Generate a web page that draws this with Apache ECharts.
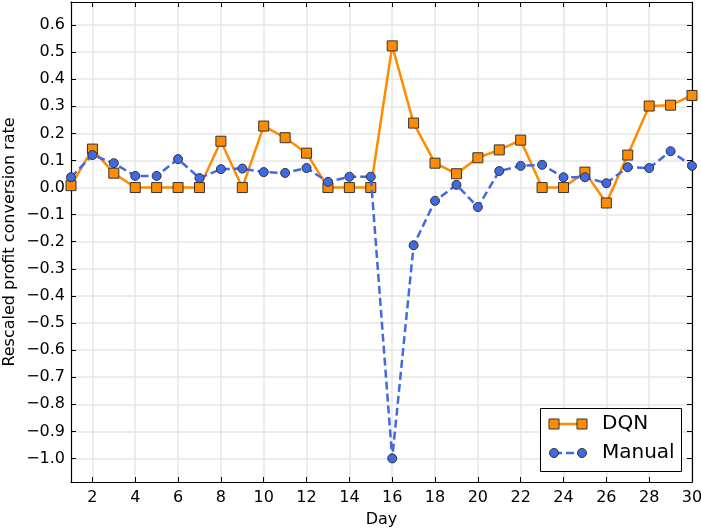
<!DOCTYPE html>
<html>
<head>
<meta charset="utf-8">
<script src="https://cdn.jsdelivr.net/npm/echarts@6/dist/echarts.min.js"></script>
<style>html,body{margin:0;padding:0;background:#fff;}#c{width:701px;height:530px;}</style>
</head>
<body>
<div id="c"></div>
<script>
const days = [1,2,3,4,5,6,7,8,9,10,11,12,13,14,15,16,17,18,19,20,21,22,23,24,25,26,27,28,29,30];
const dqn = [0.007,0.142,0.053,0.0,0.0,0.0,0.0,0.171,0.0,0.227,0.184,0.127,0.0,0.0,0.0,0.523,0.238,0.09,0.051,0.11,0.139,0.175,0.0,0.0,0.057,-0.057,0.12,0.301,0.304,0.34];
const manual = [0.038,0.12,0.09,0.043,0.043,0.105,0.035,0.068,0.07,0.057,0.054,0.072,0.021,0.04,0.04,-1.0,-0.213,-0.049,0.01,-0.072,0.061,0.08,0.084,0.038,0.038,0.016,0.075,0.072,0.134,0.08];
const xTicks = [2,4,6,8,10,12,14,16,18,20,22,24,26,28,30];
const yTicks = [-1.0,-0.9,-0.8,-0.7,-0.6,-0.5,-0.4,-0.3,-0.2,-0.1,0.0,0.1,0.2,0.3,0.4,0.5,0.6];
const seriesNames = ['DQN','Manual'];

const FONT = 'DejaVu Sans';
const ORANGE = '#ff8c00';
const BLUE = '#4169e1';
const EDGE = '#333333';
const GRIDC = '#e6e6e6';

function fmtY(v){ return v.toFixed(1).replace('-', '\u2212'); }

const chart = echarts.init(document.getElementById('c'), null, {renderer:'canvas'});
const baseX = {
  type:'value', min:1, max:30,
  axisLine:{show:true, onZero:false, lineStyle:{color:'#000', width:1.2}},
  axisTick:{show:true, inside:true, length:5, customValues:xTicks, lineStyle:{color:'#000'}},
  axisLabel:{show:false},
  splitLine:{show:false}
};
const baseY = {
  type:'value', min:-1.087, max:0.685,
  axisLine:{show:true, onZero:false, lineStyle:{color:'#000', width:1.2}},
  axisTick:{show:true, inside:true, length:5, customValues:yTicks, lineStyle:{color:'#000'}},
  axisLabel:{show:false},
  splitLine:{show:false}
};
chart.setOption({
  animation:false,
  textStyle:{fontFamily:FONT},
  grid:{left:71, right:9, top:2, bottom:48, containLabel:false, outerBoundsMode:'none'},
  xAxis:[
    Object.assign({}, baseX, {
      position:'bottom', name:'Day', nameLocation:'middle', nameGap:30, nameMoveOverlap:false,
      nameTextStyle:{fontFamily:FONT, fontSize:16, color:'#000'},
      axisLabel:{show:true, customValues:xTicks, fontFamily:FONT, fontSize:16, color:'#000', margin:8},
      splitLine:{show:true, lineStyle:{color:GRIDC, width:1.5}}
    }),
    Object.assign({}, baseX, {position:'top'})
  ],
  yAxis:[
    Object.assign({}, baseY, {
      position:'left', name:'Rescaled profit conversion rate', nameLocation:'middle', nameGap:53, nameMoveOverlap:false,
      nameTextStyle:{fontFamily:FONT, fontSize:16, color:'#000'},
      axisLabel:{show:true, customValues:yTicks, fontFamily:FONT, fontSize:16, color:'#000', margin:6, formatter:fmtY},
      splitLine:{show:true, lineStyle:{color:GRIDC, width:1.5}}
    }),
    Object.assign({}, baseY, {position:'right'})
  ],
  series:[
    {
      name:seriesNames[0], type:'line', xAxisIndex:0, yAxisIndex:0,
      data: days.map((d,i)=>[d, dqn[i]]),
      symbol:'rect', symbolSize:10, showAllSymbol:true,
      lineStyle:{color:ORANGE, width:2.5},
      itemStyle:{color:ORANGE, borderColor:EDGE, borderWidth:1},
      z:2
    },
    {
      name:seriesNames[1], type:'line', xAxisIndex:0, yAxisIndex:0,
      data: days.map((d,i)=>[d, manual[i]]),
      symbol:'circle', symbolSize:9, showAllSymbol:true,
      lineStyle:{color:BLUE, width:2.5, type:[8,4]},
      itemStyle:{color:BLUE, borderColor:EDGE, borderWidth:1},
      z:3
    }
  ],
  graphic:[
    {type:'rect', shape:{x:540.5, y:408.5, width:141, height:63}, style:{fill:'#fff', stroke:'#000', lineWidth:1}, z:10},
    {type:'line', shape:{x1:554, y1:424, x2:582, y2:424}, style:{stroke:ORANGE, lineWidth:2.5}, z:11},
    {type:'rect', shape:{x:549, y:419, width:10, height:10}, style:{fill:ORANGE, stroke:EDGE, lineWidth:1}, z:12},
    {type:'rect', shape:{x:577, y:419, width:10, height:10}, style:{fill:ORANGE, stroke:EDGE, lineWidth:1}, z:12},
    {type:'text', x:602, y:424, style:{text:seriesNames[0], fontFamily:FONT, fontSize:20, fill:'#000', verticalAlign:'middle'}, z:12},
    {type:'line', shape:{x1:554, y1:453, x2:582, y2:453}, style:{stroke:BLUE, lineWidth:2.5, lineDash:[8,4]}, z:11},
    {type:'circle', shape:{cx:554, cy:453, r:4.5}, style:{fill:BLUE, stroke:EDGE, lineWidth:1}, z:12},
    {type:'circle', shape:{cx:582, cy:453, r:4.5}, style:{fill:BLUE, stroke:EDGE, lineWidth:1}, z:12},
    {type:'text', x:602, y:453, style:{text:seriesNames[1], fontFamily:FONT, fontSize:20, fill:'#000', verticalAlign:'middle'}, z:12}
  ]
});
</script>
</body>
</html>
